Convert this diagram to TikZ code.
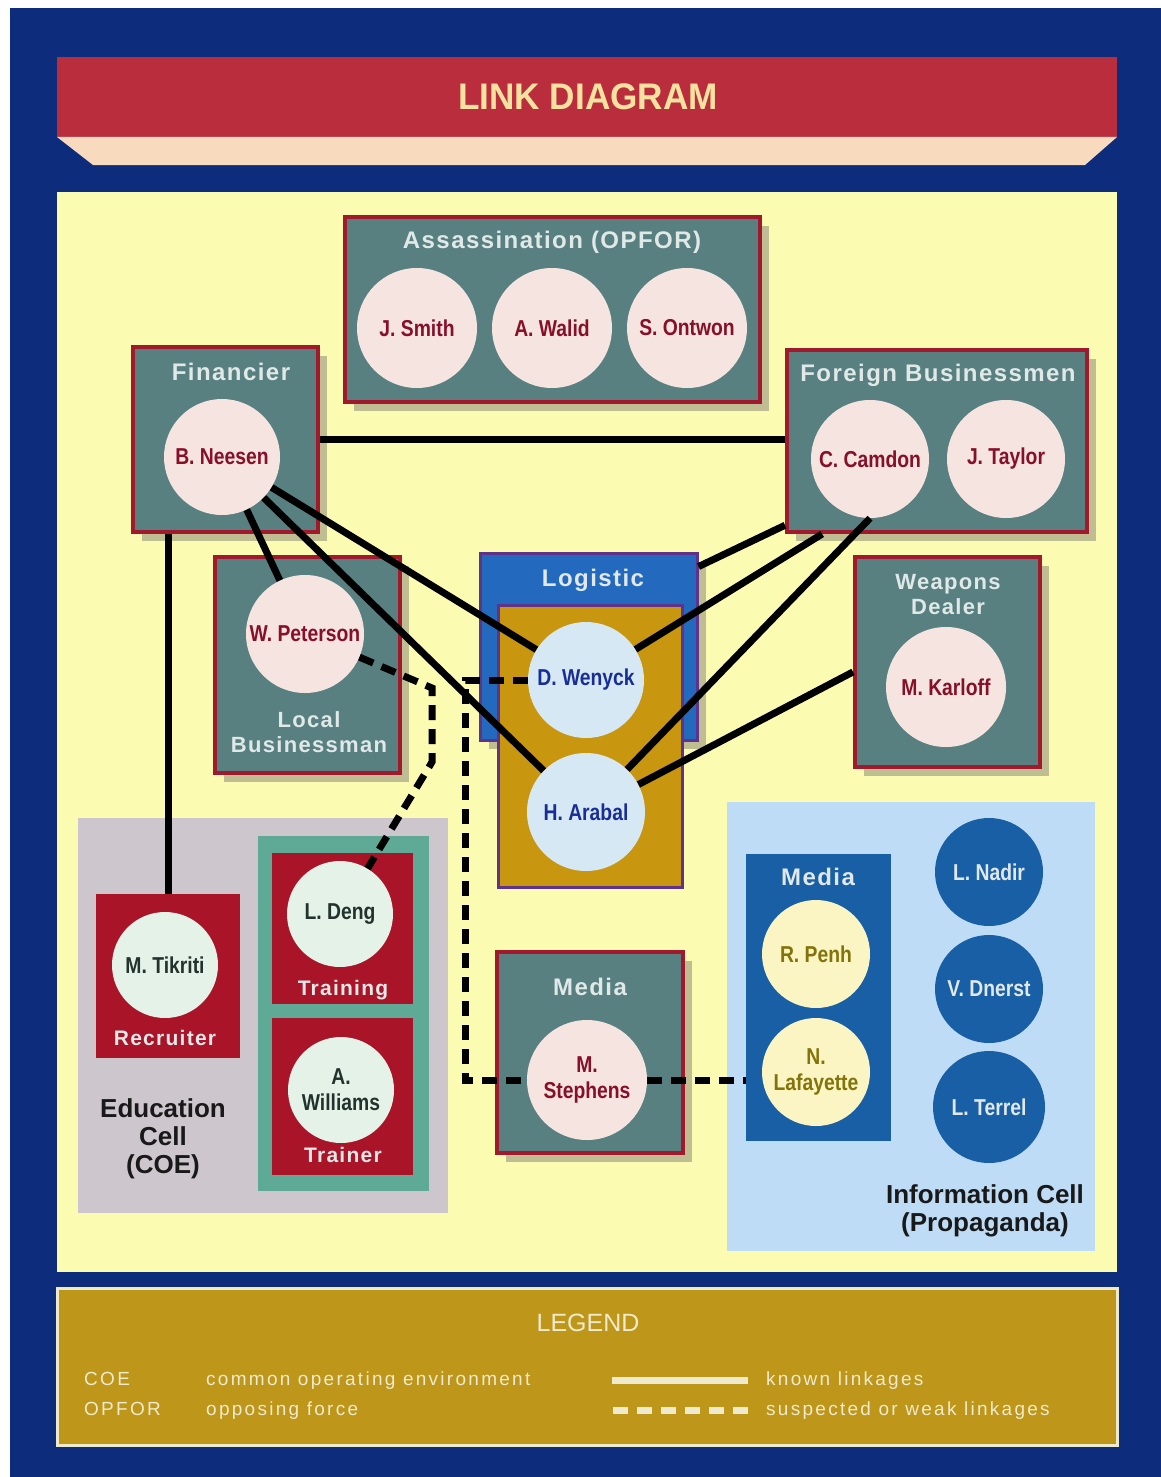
\documentclass[tikz,border=0pt]{standalone}
\usepackage{fontspec}
\setmainfont{Liberation Sans}
\newfontfamily\namefont{Liberation Sans}[FakeStretch=0.84]
\newfontfamily\headfont{Liberation Sans}[FakeStretch=0.95]
\newfontfamily\capfont{Liberation Sans}[LetterSpace=6]
\newfontfamily\keyfont{Liberation Sans}[LetterSpace=12]
\usetikzlibrary{positioning,shadows}

\definecolor{navy}{RGB}{13,44,124}
\definecolor{bannerred}{RGB}{185,45,60}
\definecolor{peach}{RGB}{248,218,190}
\definecolor{canvas}{RGB}{252,251,178}
\definecolor{slate}{RGB}{88,128,128}
\definecolor{rim}{RGB}{160,25,45}
\definecolor{blush}{RGB}{245,228,224}
\definecolor{wine}{RGB}{135,15,40}
\definecolor{logblue}{RGB}{35,105,190}
\definecolor{logrim}{RGB}{95,50,140}
\definecolor{ochre}{RGB}{200,150,15}
\definecolor{ice}{RGB}{215,232,245}
\definecolor{ink}{RGB}{25,45,150}
\definecolor{lilac}{RGB}{205,198,205}
\definecolor{cellred}{RGB}{170,20,40}
\definecolor{sea}{RGB}{95,170,150}
\definecolor{mint}{RGB}{228,242,232}
\definecolor{pine}{RGB}{35,50,45}
\definecolor{sky}{RGB}{190,220,245}
\definecolor{mediablue}{RGB}{25,95,165}
\definecolor{cream}{RGB}{250,245,195}
\definecolor{olivetext}{RGB}{130,115,10}
\definecolor{legendgold}{RGB}{190,150,25}
\definecolor{legendtext}{RGB}{238,234,205}
\definecolor{paper}{RGB}{225,232,232}
\definecolor{titletext}{RGB}{245,226,160}
\definecolor{shade}{RGB}{140,140,120}

\tikzset{
  cell/.style 2 args={rectangle,draw=rim,line width=4pt,fill=slate,minimum width=#1,minimum height=#2,inner sep=0pt,
    drop shadow={shadow xshift=9pt,shadow yshift=-9pt,fill=shade,opacity=.55}},
  flat/.style 2 args={rectangle,minimum width=#1,minimum height=#2,inner sep=0pt},
  person/.style={circle,fill=blush,text=wine,minimum size=#1,inner sep=0pt,align=center,
    font=\namefont\bfseries\fontsize{23}{26}\selectfont},
  person/.default=118pt,
  caption/.style={text=paper,align=center,font=\capfont\bfseries\fontsize{24}{25}\selectfont},
  small caption/.style={caption,font=\capfont\bfseries\fontsize{22}{25}\selectfont},
  tag/.style={text=paper,font=\capfont\bfseries\fontsize{21}{24}\selectfont},
  cellname/.style={text=black!90,align=center,font=\bfseries\fontsize{26}{28}\selectfont},
  keytext/.style={text=legendtext,anchor=base west,inner sep=0pt,font=\keyfont\fontsize{19}{22}\selectfont},
  link/.style={line width=7pt},
  weak/.style={line width=7pt,dash pattern=on 15pt off 9pt},
}

\begin{document}
\begin{tikzpicture}[x=1pt,y=-1pt,node distance=118pt,on grid]
\useasboundingbox (0,0) rectangle (1161,1477);
\fill[white] (0,0) rectangle (1161,1477);
\fill[navy] (10,8) rectangle (1161,1477);

\fill[bannerred] (57,57) rectangle (1117,137);
\fill[peach] (57,137) -- (1117,137) -- (1085,165) -- (93,165) -- cycle;
\node[text=titletext,font=\headfont\bfseries\fontsize{37}{40}\selectfont] (title) at (588,97) {LINK DIAGRAM};

\fill[canvas] (57,192) rectangle (1117,1272);
\node[flat={1060pt}{157pt},fill=legendgold,draw=legendtext,line width=3pt] (legend) at (587,1366.5) {};
\node[text=legendtext,font=\fontsize{25}{28}\selectfont] (legtitle) at (588,1323) {LEGEND};
\node[keytext] (coe) at (84,1385) {COE};
\node[keytext] (opfor) at (84,1415) {OPFOR};
\node[keytext] (coedesc) at (206,1385) {common operating environment};
\node[keytext] (opfordesc) at (206,1415) {opposing force};
\node[keytext] (known) at (766,1385) {known linkages};
\node[keytext] (weakkey) at (766,1415) {suspected or weak linkages};
\draw[link,draw=legendtext] ([xshift=-18pt,yshift=5pt]known.base west) -- ++(-136,0);
\draw[weak,draw=legendtext] ([xshift=-18pt,yshift=5pt]weakkey.base west) -- ++(-136,0);

\node[flat={370pt}{395pt},fill=lilac] (edu) at (263,1015.5) {};
\node[flat={368pt}{449pt},fill=sky] (info) at (911,1026.5) {};

\node[cell={415pt}{185pt}] (assn) at (552.5,309.5) {};
\node[cell={185pt}{185pt}] (fin) at (225.5,439.5) {};
\node[cell={185pt}{216pt}] (local) at (307.5,665) {};
\node[cell={300pt}{182pt}] (fbm) at (937,441) {};
\node[cell={185pt}{210pt}] (wpn) at (947.5,662) {};
\node[cell={186pt}{201pt}] (media) at (590,1052.5) {};
\node[cell={217pt}{187pt},fill=logblue,draw=logrim,line width=3pt] (logbox) at (588.5,646.5) {};
\node[flat={184pt}{282pt},fill=ochre,draw=logrim,line width=3pt] (loggold) at (590,746) {};

\node[flat={144pt}{164pt},fill=cellred] (rec) at (168,976) {};
\node[flat={171pt}{355pt},fill=sea] (trn) at (343.5,1013.5) {};
\node[flat={141pt}{151pt},fill=cellred] (trnbox) at (342.5,928.5) {};
\node[flat={141pt}{157pt},fill=cellred] (trainer) at (342.5,1096.5) {};
\node[flat={145pt}{287pt},fill=mediablue] (imedia) at (818.5,997.5) {};

\node[person=120pt] (smith) at (417,328) {J. Smith};
\node[person=120pt] (walid) [right=135pt of smith] {A. Walid};
\node[person=120pt] (ontwon) [right=135pt of walid] {S. Ontwon};
\node[person=116pt] (neesen) at (222,457) {B. Neesen};
\node[person] (peterson) at (305,634) {W. Peterson};
\node[person] (camdon) at (870,459) {C. Camdon};
\node[person] (taylor) [right=136pt of camdon] {J. Taylor};
\node[person=116pt,fill=ice,text=ink] (wenyck) at (586,680) {D. Wenyck};
\node[person,fill=ice,text=ink] (arabal) [below=132pt of wenyck] {H. Arabal};
\node[person=120pt] (karloff) at (946,687) {M. Karloff};
\node[person=120pt] (stephens) at (587,1080) {M.\\Stephens};
\node[person=106pt,fill=mint,text=pine] (tikriti) at (165,965) {M. Tikriti};
\node[person=106pt,fill=mint,text=pine] (deng) at (340,914) {L. Deng};
\node[person=106pt,fill=mint,text=pine] (williams) at (341,1090) {A.\\Williams};
\node[person=108pt,fill=cream,text=olivetext] (penh) at (816,954) {R. Penh};
\node[person=108pt,fill=cream,text=olivetext] (lafayette) [below=118pt of penh] {N.\\Lafayette};
\node[person=108pt,fill=mediablue,text=paper] (nadir) at (989,872) {L. Nadir};
\node[person=108pt,fill=mediablue,text=paper] (dnerst) [below=117pt of nadir] {V. Dnerst};
\node[person=112pt,fill=mediablue,text=paper] (terrel) [below=118pt of dnerst] {L. Terrel};

\node[caption] (assncap) at (552,242) {Assassination (OPFOR)};
\node[caption] (fincap) at (231,372) {Financier};
\node[small caption] (localcap) at (309,732) {Local\\Businessman};
\node[caption] (fbmcap) at (938,375) {Foreign Businessmen};
\node[caption] (logcap) at (593,580) {Logistic};
\node[small caption] (wpncap) at (948,595) {Weapons\\Dealer};
\node[caption] (mediacap) at (590,987) {Media};
\node[caption] (imediacap) at (818,877) {Media};
\node[tag] (reccap) at (165,1038) {Recruiter};
\node[tag] (trncap) at (343,990) {Training};
\node[tag] (trainercap) at (343,1155) {Trainer};
\node[cellname] (educap) at (163,1139) {Education\\Cell\\(COE)};
\node[cellname] (infocap) at (985,1211) {Information Cell\\(Propaganda)};

\draw[link] (fin.east) -- (fin.east -| fbm.west);
\draw[link] (rec.north) -- (rec.north |- fin.south);
\draw[link] (neesen) -- (peterson);
\draw[link] (neesen) -- (wenyck);
\draw[link] (neesen) -- (arabal);
\draw[link] (logbox.36) -- (fbm.209);
\draw[link] (wenyck) -- (fbm.219);
\draw[link] (arabal) -- (camdon.south);
\draw[link] (arabal) -- (wpn.186);

\coordinate (pbend) at (432,688);
\coordinate (pdrop) at (432,762);
\draw[weak] (peterson) -- (pbend) -- (pdrop) -- (deng);
\coordinate (wtop) at (465,680);
\coordinate (wfoot) at (465,1080);
\draw[weak] (wenyck) -- (wtop) -- (wfoot) -- (stephens);
\draw[weak] (stephens) -- (stephens -| imedia.west);
\end{tikzpicture}
\end{document}
